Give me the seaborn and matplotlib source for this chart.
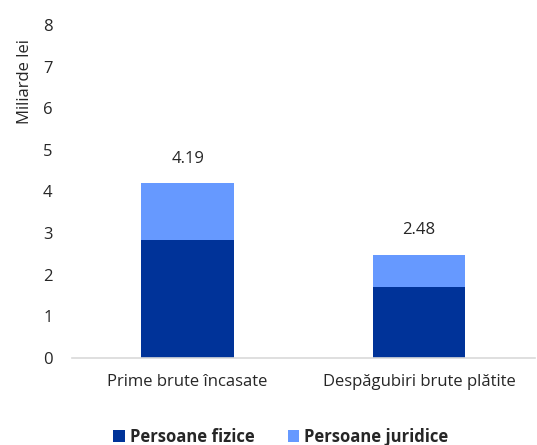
import numpy as np
import pandas as pd
import seaborn as sns
import matplotlib.pyplot as plt

# date (miliarde lei)
categorii = ["Prime brute încasate", "Despăgubiri brute plătite"]
persoane_fizice = [2.84, 1.69]
persoane_juridice = [1.35, 0.79]
totaluri = [4.19, 2.48]

df = pd.DataFrame({
    "categorie": categorii,
    "fizice": persoane_fizice,
    "juridice": persoane_juridice,
    "total": totaluri,
})

sns.set_style("white")
plt.rcParams["font.family"] = ["Open Sans", "DejaVu Sans"]

fig = plt.figure(figsize=(5.37, 4.45), dpi=100)
ax = fig.add_axes([0.134, 0.196, 0.862, 0.748])

dark = "#003399"
light = "#6699FF"
fs = 12

# bara totala (juridice deasupra), apoi fizice peste ea
sns.barplot(data=df, x="categorie", y="total", color=light, width=0.4,
            saturation=1, ax=ax, label="Persoane juridice", linewidth=0)
sns.barplot(data=df, x="categorie", y="fizice", color=dark, width=0.4,
            saturation=1, ax=ax, label="Persoane fizice", linewidth=0)

for i, t in enumerate(df["total"]):
    ax.annotate(f"{t:.2f}", (i, t), xytext=(0, 12), textcoords="offset points",
                ha="center", va="bottom", fontsize=fs)

ax.set_ylim(0, 8)
ax.set_xlim(-0.5, 1.5)
ax.set_yticks(range(0, 9))
ax.tick_params(axis="both", labelsize=fs, length=0)
ax.tick_params(axis="y", pad=14)
ax.tick_params(axis="x", pad=12)
ax.set_xlabel("")
ax.set_ylabel("Miliarde lei", fontsize=fs)
ax.yaxis.set_label_coords(-0.085, 0.83)

for s in ["top", "right", "left"]:
    ax.spines[s].set_visible(False)
ax.spines["bottom"].set_color("#d9d9d9")
ax.spines["bottom"].set_linewidth(1.2)

handles, labels = ax.get_legend_handles_labels()
if ax.legend_ is not None:
    ax.legend_.remove()
order = [labels.index("Persoane fizice"), labels.index("Persoane juridice")]
leg = fig.legend([handles[i] for i in order], [labels[i] for i in order],
                 loc="center", bbox_to_anchor=(0.523, 0.018), ncol=2,
                 frameon=False, prop={"weight": "bold", "size": fs},
                 handlelength=0.7, handleheight=0.7, handletextpad=0.3,
                 columnspacing=2.0)

fig.savefig("out.png", dpi=100)
